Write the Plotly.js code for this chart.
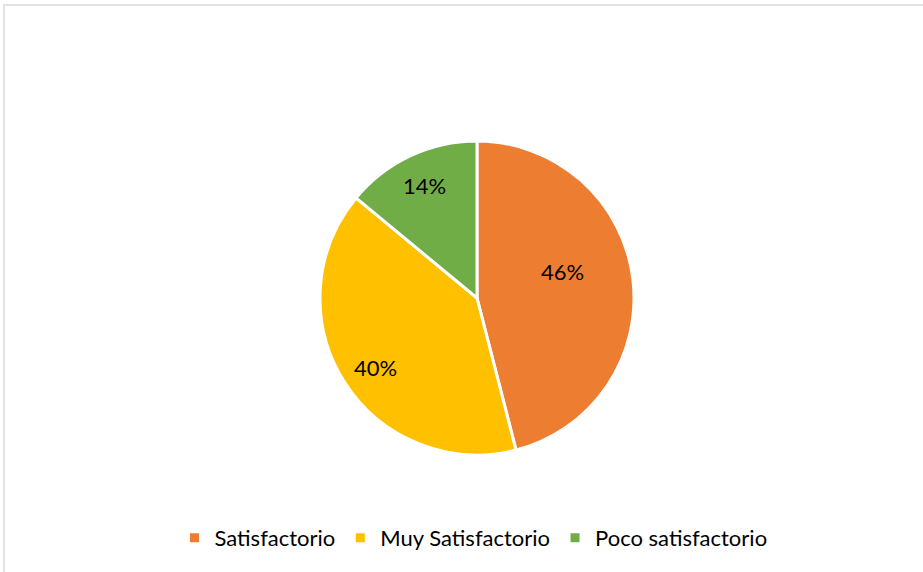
<!DOCTYPE html>
<html>
<head>
<meta charset="utf-8">
<script src="https://cdn.plot.ly/plotly-3.0.1.min.js"></script>
<style>html,body{margin:0;padding:0;background:#fff;}#chart{width:923px;height:572px;}</style>
</head>
<body>
<div id="chart"></div>
<script>
const categories = ["Satisfactorio", "Muy Satisfactorio", "Poco satisfactorio"];
const values = [46, 40, 14];
const colors = ["#ED7D31", "#FFC000", "#70AD47"];

const W = 923, H = 572;
const cx = 477, cy = 298, r = 157;
// label placement (radius fraction, angle nudge in degrees) per slice, Excel-like best fit
const labelRadius = [0.57, 0.78, 0.79];
const labelNudge = [-10, -2, 0];

const total = values.reduce((a, b) => a + b, 0);
let cum = 0;
const annotations = values.map((v, i) => {
  const mid = (cum + v / 2) / total * 2 * Math.PI + labelNudge[i] * Math.PI / 180;
  cum += v;
  const px = cx + labelRadius[i] * r * Math.sin(mid);
  const py = cy - labelRadius[i] * r * Math.cos(mid);
  return {
    xref: 'paper', yref: 'paper', x: px / W, y: 1 - py / H,
    xanchor: 'center', yanchor: 'middle', showarrow: false,
    text: Math.round(v / total * 100) + '%',
    font: {family: 'Lato, "Noto Sans", sans-serif', size: 22, color: '#000000'}
  };
});

Plotly.newPlot('chart', [{
  type: 'pie',
  labels: categories,
  values: values,
  sort: false,
  direction: 'clockwise',
  rotation: 0,
  marker: {colors: colors, line: {color: '#ffffff', width: 3}},
  textinfo: 'none',
  hoverinfo: 'none',
  domain: {x: [(cx - r) / W, (cx + r) / W], y: [1 - (cy + r) / H, 1 - (cy - r) / H]}
}], {
  width: W, height: H,
  margin: {l: 0, r: 0, t: 0, b: 0},
  paper_bgcolor: '#ffffff',
  showlegend: true,
  legend: {
    orientation: 'h', x: 0.513, xanchor: 'center', y: 1 - 538 / H, yanchor: 'middle',
    font: {family: 'Lato, "Noto Sans", sans-serif', size: 22, color: '#000000'},
    itemwidth: 30, traceorder: 'normal'
  },
  annotations: annotations,
  shapes: [{
    type: 'rect', xref: 'paper', yref: 'paper',
    x0: 4 / W, x1: 1.01, y0: -0.01, y1: 1 - 5 / H,
    line: {color: '#d9d9d9', width: 1.5}, fillcolor: 'rgba(0,0,0,0)'
  }]
}, {displayModeBar: false, staticPlot: true});
</script>
</body>
</html>
